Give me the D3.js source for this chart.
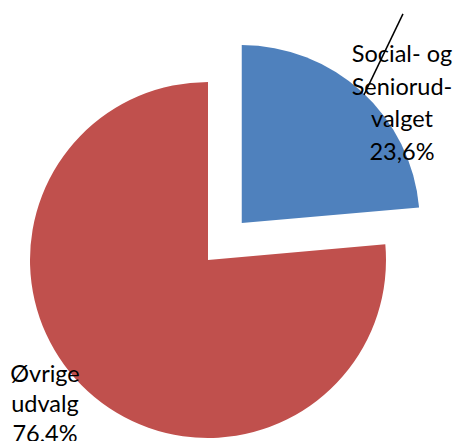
<!DOCTYPE html>
<html>
<head>
<meta charset="utf-8">
<script src="https://cdn.jsdelivr.net/npm/d3@7"></script>
<style>
  html, body { margin: 0; padding: 0; background: #fff; }
  svg { display: block; }
  .lbl { font-family: Lato, "Open Sans", sans-serif; font-size: 23.5px; fill: #000; }
</style>
</head>
<body>
<div id="chart"></div>
<script>
// data
const categories = ["Social- og Seniorudvalget", "Øvrige udvalg"];
const shares = [23.6, 76.4];
const labelLines = [["Social- og", "Seniorud-", "valget", "23,6%"], ["Øvrige", "udvalg", "76,4%"]];
const colors = ["#4F81BD", "#C0504D"];

const width = 457, height = 441;
const radius = 178;
const cx = 208, cy = 260;   // pie centre
const explode = 50;          // pull-out of first slice

const svg = d3.select("#chart").append("svg")
    .attr("width", width)
    .attr("height", height);

const pie = d3.pie().sort(null).value(d => d.value);
const arcs = pie(categories.map((c, i) => ({name: c, value: shares[i], lines: labelLines[i]})));

const arc = d3.arc().innerRadius(0).outerRadius(radius);

const g = svg.append("g").attr("transform", "translate(" + cx + "," + cy + ")");

// offset for exploded slice
function offset(d, i) {
    if (i != 0) return [0, 0];
    const mid = (d.startAngle + d.endAngle) / 2;
    return [Math.sin(mid) * explode, -Math.cos(mid) * explode];
}

g.selectAll("path.slice")
    .data(arcs)
    .enter().append("path")
    .attr("class", "slice")
    .attr("d", arc)
    .attr("transform", (d, i) => "translate(" + offset(d, i) + ")")
    .style("fill", (d, i) => colors[i]);

// leader line for the first label
const a0 = arcs[0];
const o0 = offset(a0, 0);
const mid0 = (a0.startAngle + a0.endAngle) / 2;
const lx = o0[0] + Math.sin(mid0) * radius, ly = o0[1] - Math.cos(mid0) * radius;
g.append("line")
    .attr("x1", lx + 2).attr("y1", ly + 3)
    .attr("x2", lx + 41).attr("y2", ly - 78)
    .style("stroke", "#000")
    .style("stroke-width", 1.5);

// labels (placed where the original chart put them)
const labelPos = [[402, 62], [45, 382]];
const lineH = [32.5, 30];
arcs.forEach(function(d, i) {
    const t = svg.append("text")
        .attr("class", "lbl")
        .attr("text-anchor", "middle");
    d.data.lines.forEach(function(s, j) {
        t.append("tspan")
            .attr("x", labelPos[i][0])
            .attr("y", labelPos[i][1] + j * lineH[i])
            .text(s);
    });
});
</script>
</body>
</html>
